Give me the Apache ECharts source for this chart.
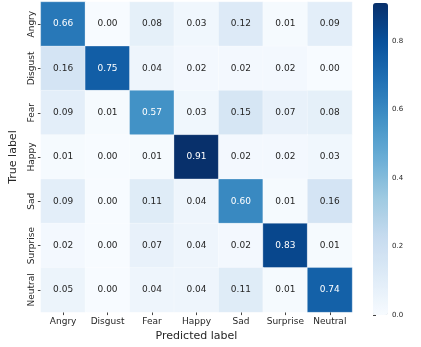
<!DOCTYPE html>
<html><head><meta charset="utf-8">
<script src="https://cdn.jsdelivr.net/npm/echarts@6/dist/echarts.min.js"></script>
<style>html,body{margin:0;padding:0;background:#fff}#c{width:421px;height:347px}</style>
</head><body><div id="c"></div>
<script>
var predictedLabels = ['Angry','Disgust','Fear','Happy','Sad','Surprise','Neutral'];
var trueLabels = ['Angry','Disgust','Fear','Happy','Sad','Surprise','Neutral'];
var rowAngry    = [0.66, 0.00, 0.08, 0.03, 0.12, 0.01, 0.09];
var rowDisgust  = [0.16, 0.75, 0.04, 0.02, 0.02, 0.02, 0.00];
var rowFear     = [0.09, 0.01, 0.57, 0.03, 0.15, 0.07, 0.08];
var rowHappy    = [0.01, 0.00, 0.01, 0.91, 0.02, 0.02, 0.03];
var rowSad      = [0.09, 0.00, 0.11, 0.04, 0.60, 0.01, 0.16];
var rowSurprise = [0.02, 0.00, 0.07, 0.04, 0.02, 0.83, 0.01];
var rowNeutral  = [0.05, 0.00, 0.04, 0.04, 0.11, 0.01, 0.74];
var colorbarTicks = [0.0, 0.2, 0.4, 0.6, 0.8];

var rows = [rowAngry, rowDisgust, rowFear, rowHappy, rowSad, rowSurprise, rowNeutral];
var vmax = 0.91;
var data = [];
rows.forEach(function(r, yi){
  r.forEach(function(v, xi){
    data.push({value:[xi, yi, v], label:{color: v > 0.45 ? '#ffffff' : '#262626'}});
  });
});
var blues = ['#f7fbff','#deebf7','#c6dbef','#9ecae1','#6baed6','#4292c6','#2171b5','#08519c','#08306b'];
var font = 'DejaVu Sans';
var chart = echarts.init(document.getElementById('c'));
chart.setOption({
  animation:false,
  textStyle:{fontFamily:font},
  grid:[
    {left:39, top:2, width:313, height:312},
    {left:373, top:3, width:15, height:312}
  ],
  xAxis:[
    {type:'category', data:predictedLabels, gridIndex:0, position:'bottom',
     name:'Predicted label', nameLocation:'middle', nameGap:18,
     nameTextStyle:{fontSize:11, color:'#262626', fontFamily:font},
     axisLine:{show:false}, splitLine:{show:false},
     axisTick:{show:true, alignWithLabel:true, length:3, lineStyle:{color:'#444'}},
     axisLabel:{interval:0, fontSize:9, color:'#262626', margin:5, fontFamily:font}},
    {type:'value', gridIndex:1, show:false, min:0, max:1}
  ],
  yAxis:[
    {type:'category', data:trueLabels, gridIndex:0, inverse:true,
     name:'True label', nameLocation:'middle', nameGap:18,
     nameTextStyle:{fontSize:11, color:'#262626', fontFamily:font},
     axisLine:{show:false}, splitLine:{show:false},
     axisTick:{show:true, alignWithLabel:true, length:3, lineStyle:{color:'#444'}},
     axisLabel:{interval:0, fontSize:9, color:'#262626', rotate:90, margin:5, fontFamily:font}},
    {type:'value', gridIndex:1, position:'right', min:0, max:vmax, interval:0.2,
     axisLine:{show:false}, splitLine:{show:false},
     axisTick:{show:true, length:3, lineStyle:{color:'#444'}},
     axisLabel:{fontSize:7, color:'#262626', margin:4, fontFamily:font, showMaxLabel:false,
       formatter:function(v){ return colorbarTicks.indexOf(Math.round(v*10)/10) >= 0 ? v.toFixed(1) : ''; }}}
  ],
  visualMap:{
    type:'continuous', min:0, max:vmax, seriesIndex:0, calculable:false,
    left:373, top:3, itemWidth:15, itemHeight:312, padding:0, showLabel:false,
    borderRadius:0, itemStyle:{borderRadius:0},
    inRange:{color:blues}
  },
  series:[
    {type:'heatmap', xAxisIndex:0, yAxisIndex:0, data:data,
     itemStyle:{borderColor:'rgba(255,255,255,0.6)', borderWidth:0.5},
     label:{show:true, fontSize:9, fontFamily:font, formatter:function(p){return p.value[2].toFixed(2);}}},
    {type:'line', xAxisIndex:1, yAxisIndex:1, data:[], silent:true}
  ]
});
</script></body></html>
